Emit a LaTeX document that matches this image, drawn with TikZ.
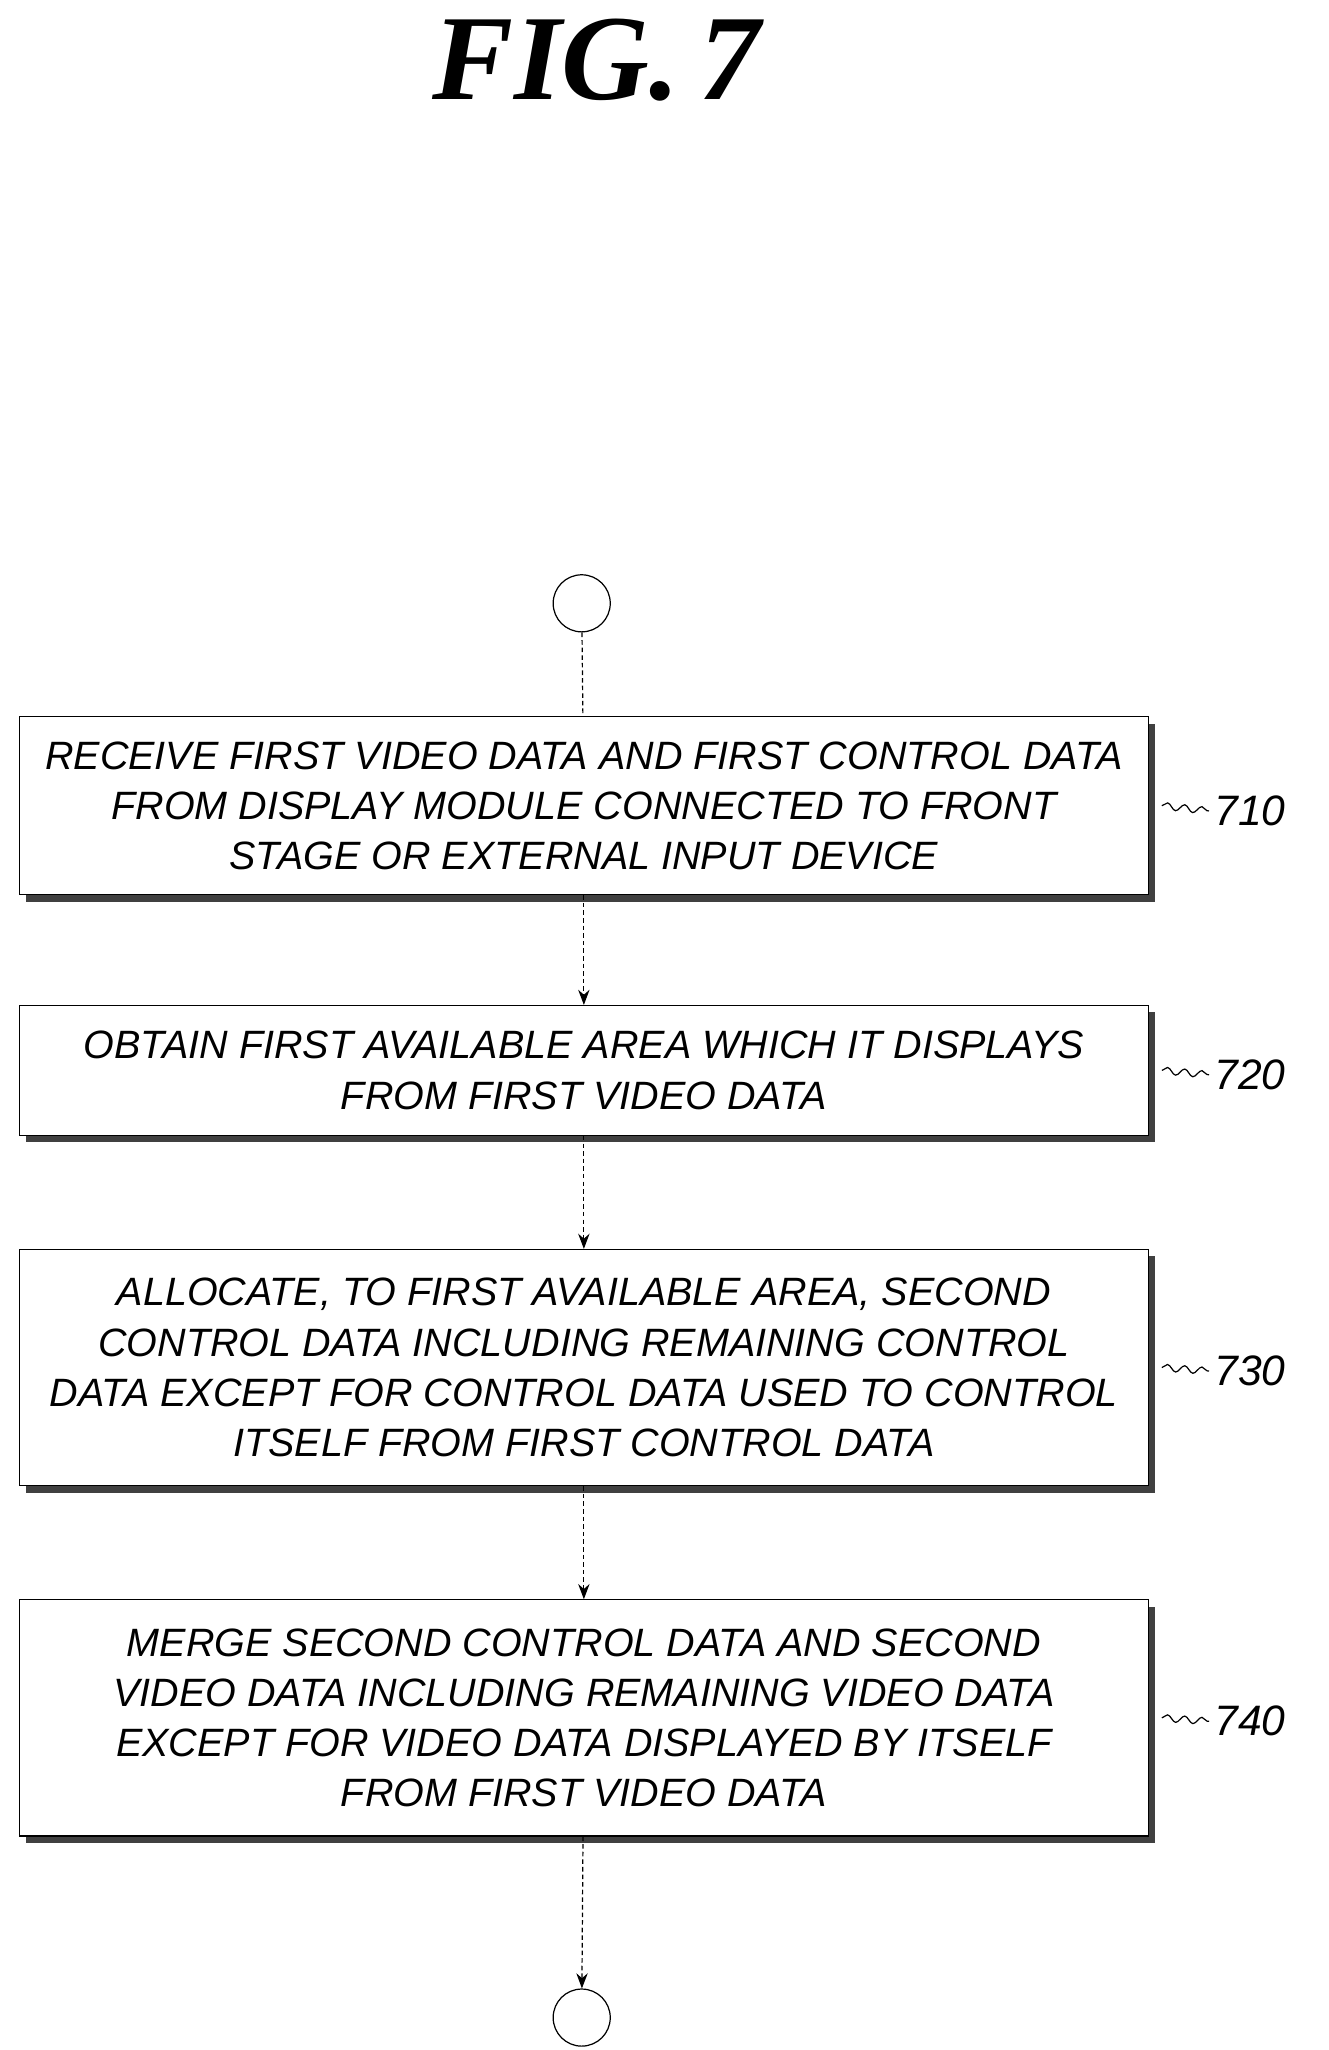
\documentclass[tikz,border=0pt]{standalone}
\usepackage{fontspec}
\setmainfont{Liberation Sans}
\newfontfamily\boxfont{Liberation Sans}
\newfontfamily\figfont{Liberation Serif}
\usetikzlibrary{positioning,shadows,decorations.pathmorphing,arrows.meta}
\tikzset{
	stepbox/.style={rectangle, draw, thick, fill=white, minimum width=26.1cm, align=center,
		font=\boxfont\itshape\fontsize{26}{33}\selectfont,
		drop shadow={shadow xshift=0.16cm, shadow yshift=-0.16cm, opacity=1, fill=black!75}},
	endnode/.style={circle, draw, thick, minimum size=1.32cm},
	flow/.style={thick, dash pattern=on 3pt off 2pt, -{Stealth[length=0.35cm]}},
	tag/.style={font=\boxfont\itshape\fontsize{28}{32}\selectfont},
	squig/.style={thick, decorate, decoration={snake, amplitude=0.8mm, segment length=4mm}}
}
\begin{document}
\begin{tikzpicture}
	\useasboundingbox (0,0) rectangle (30.72,-47.4);
	\node[font=\figfont\itshape\bfseries\fontsize{80}{90}\selectfont] at (13.8,-1.4) (title) {FIG.\,7};

	\node[endnode] at (13.45,-13.95) (start) {};
	\node[stepbox, minimum height=4.11cm] at (13.5,-18.63) (s710) {RECEIVE FIRST VIDEO DATA AND FIRST CONTROL DATA\\FROM DISPLAY MODULE CONNECTED TO FRONT\\STAGE OR EXTERNAL INPUT DEVICE};
	\node[stepbox, minimum height=3cm] at (13.5,-24.75) (s720) {OBTAIN FIRST AVAILABLE AREA WHICH IT DISPLAYS\\FROM FIRST VIDEO DATA};
	\node[stepbox, minimum height=5.46cm] at (13.5,-31.62) (s730) {ALLOCATE, TO FIRST AVAILABLE AREA, SECOND\\CONTROL DATA INCLUDING REMAINING CONTROL\\DATA EXCEPT FOR CONTROL DATA USED TO CONTROL\\ITSELF FROM FIRST CONTROL DATA};
	\node[stepbox, minimum height=5.46cm] at (13.5,-39.72) (s740) {MERGE SECOND CONTROL DATA AND SECOND\\VIDEO DATA INCLUDING REMAINING VIDEO DATA\\EXCEPT FOR VIDEO DATA DISPLAYED BY ITSELF\\FROM FIRST VIDEO DATA};
	\node[endnode] at (13.45,-46.65) (stop) {};

	\draw[flow, -] (start) -- (s710);
	\draw[flow] (s710) -- (s720);
	\draw[flow] (s720) -- (s730);
	\draw[flow] (s730) -- (s740);
	\draw[flow] (s740) -- (stop);

	\node[tag] at (28.9,-18.75) (t710) {710};
	\node[tag] at (28.9,-24.85) (t720) {720};
	\node[tag] at (28.9,-31.7) (t730) {730};
	\node[tag] at (28.9,-39.8) (t740) {740};
	\draw[squig] ([xshift=0.3cm]s710.east) -- (t710.west);
	\draw[squig] ([xshift=0.3cm]s720.east) -- (t720.west);
	\draw[squig] ([xshift=0.3cm]s730.east) -- (t730.west);
	\draw[squig] ([xshift=0.3cm]s740.east) -- (t740.west);
\end{tikzpicture}
\end{document}
